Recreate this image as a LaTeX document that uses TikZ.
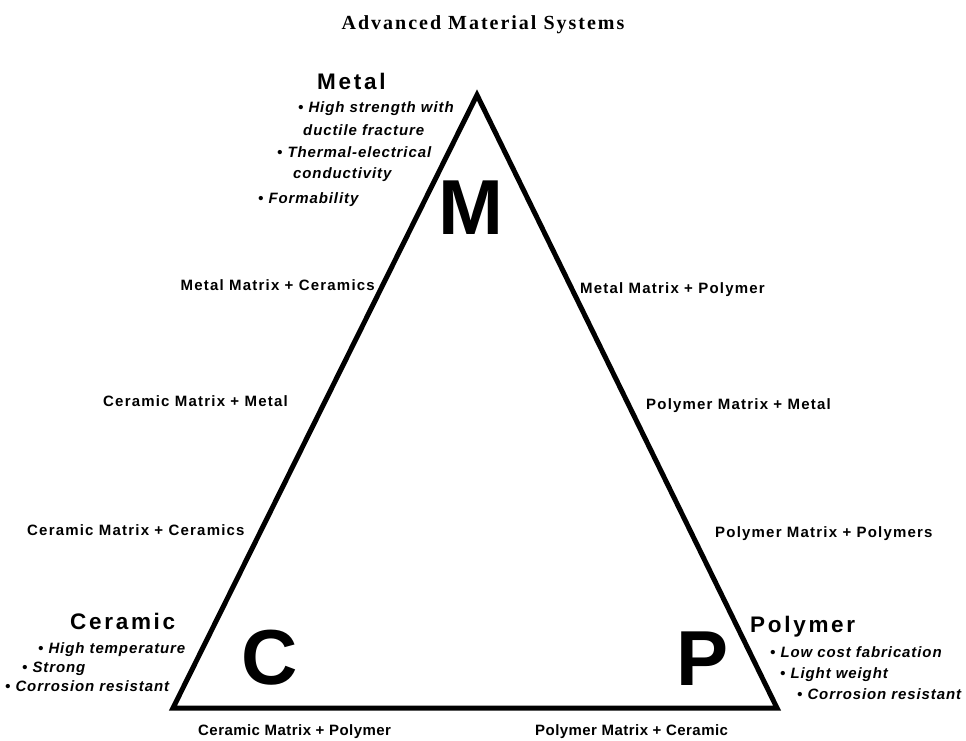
\documentclass[tikz,border=0pt]{standalone}
\usepackage{fontspec}
\setmainfont{Liberation Sans}
\newfontfamily\titlefont[LetterSpace=10]{Liberation Serif}
\newfontfamily\headfont[LetterSpace=12]{Liberation Sans}
\newfontfamily\bulletfont[LetterSpace=6]{Liberation Sans}
\newfontfamily\labelfont[LetterSpace=8]{Liberation Sans}
\newfontfamily\baselabelfont[LetterSpace=3]{Liberation Sans}
\begin{document}
\begin{tikzpicture}[x=1pt,y=-1pt,
  titletext/.style={font=\titlefont\bfseries\fontsize{20}{24}\selectfont, inner sep=0, anchor=base},
  headtext/.style={font=\headfont\bfseries\fontsize{22.5}{26}\selectfont, inner sep=0, anchor=base west},
  bullettext/.style={font=\bulletfont\bfseries\itshape\fontsize{15}{18}\selectfont, inner sep=0, anchor=base west},
  labeltext/.style={font=\labelfont\bfseries\fontsize{15}{18}\selectfont, inner sep=0, anchor=base west},
  baselabel/.style={font=\baselabelfont\bfseries\fontsize{15}{18}\selectfont, inner sep=0, anchor=base west},
  bigletter/.style={font=\bfseries\fontsize{78}{80}\selectfont, inner sep=0, anchor=center},
  edge/.style={line width=5pt, line join=miter}]
\useasboundingbox (0,0) rectangle (966,740);
% title
\node[titletext] (title) at (483,29) {Advanced Material Systems};
% triangle corners
\coordinate (top) at (477,95);
\coordinate (bl) at (173,708);
\coordinate (br) at (777,708);
\draw[edge] (top) -- (br) -- (bl) -- cycle;
% big letters
\node[bigletter] (M) at (471,208) {M};
\node[bigletter] (C) at (270,658) {C};
\node[bigletter] (P) at (703,659) {P};
% Metal
\node[headtext] (metal) at (317,89) {Metal};
\node[bullettext] (m1) at (298,112) {• High strength with};
\node[bullettext] (m2) at (303,135) {ductile fracture};
\node[bullettext] (m3) at (277,157) {• Thermal-electrical};
\node[bullettext] (m4) at (293,178) {conductivity};
\node[bullettext] (m5) at (258,203) {• Formability};
% Ceramic
\node[headtext] (ceramic) at (70,629) {Ceramic};
\node[bullettext] (c1) at (38,653) {• High temperature};
\node[bullettext] (c2) at (22,672) {• Strong};
\node[bullettext] (c3) at (5,691) {• Corrosion resistant};
% Polymer
\node[headtext] (polymer) at (750,632) {Polymer};
\node[bullettext] (p1) at (770,657) {• Low cost fabrication};
\node[bullettext] (p2) at (780,678) {• Light weight};
\node[bullettext] (p3) at (797,699) {• Corrosion resistant};
% edge labels
\node[labeltext, anchor=base east] (mmc) at (375,290) {Metal Matrix + Ceramics};
\node[labeltext] (cmm) at (103,406) {Ceramic Matrix + Metal};
\node[labeltext] (cmc) at (27,535) {Ceramic Matrix + Ceramics};
\node[labeltext] (mmp) at (580,293) {Metal Matrix + Polymer};
\node[labeltext] (pmm) at (646,409) {Polymer Matrix + Metal};
\node[labeltext] (pmp) at (715,537) {Polymer Matrix + Polymers};
\node[baselabel] (cmp) at (198,735) {Ceramic Matrix + Polymer};
\node[baselabel] (pmc) at (535,735) {Polymer Matrix + Ceramic};
\end{tikzpicture}
\end{document}
